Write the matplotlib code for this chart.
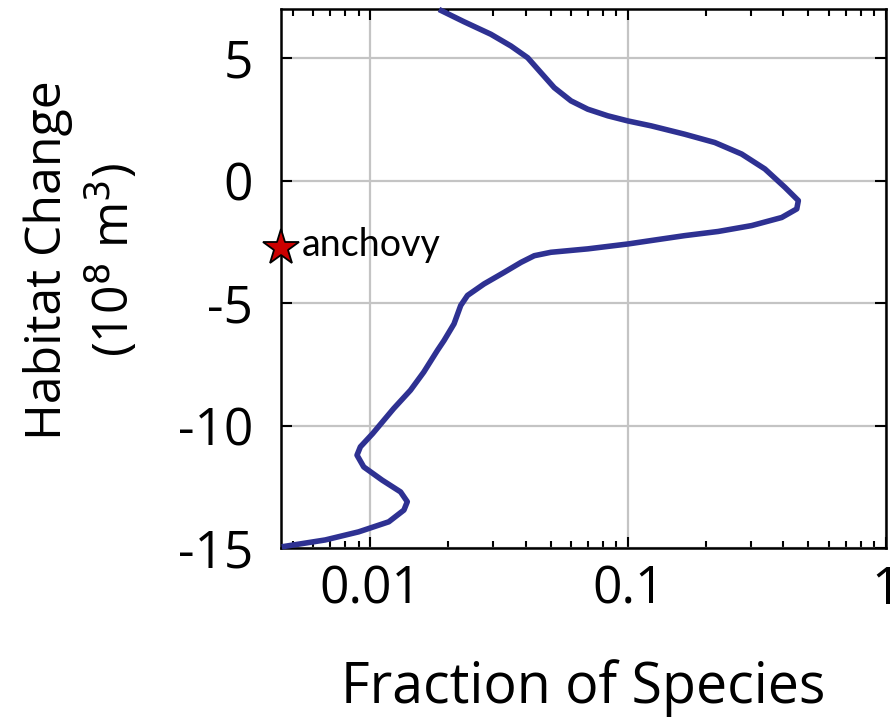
import matplotlib
matplotlib.use('Agg')
import matplotlib.pyplot as plt
from matplotlib.ticker import LogLocator, NullFormatter, FixedLocator
import numpy as np

# curve: habitat change (1e8 m^3) vs fraction of species
habitat = [6.98, 6.48, 5.97, 5.49, 5.01, 4.40, 3.79, 3.25, 2.91, 2.64, 2.43,
           2.23, 1.89, 1.55, 1.08, 0.47, -0.28, -0.82, -1.16, -1.51,
           -1.84, -2.08, -2.25, -2.43, -2.59, -2.79, -2.93, -3.07, -3.34,
           -3.75, -4.22, -4.69, -5.10, -5.85, -6.53, -6.93, -7.82, -8.56,
           -9.31, -10.33, -10.87, -11.21, -11.69, -12.23,
           -12.71, -13.11, -13.45, -13.93, -14.34, -14.67, -14.95]
fraction = [0.01845, 0.02306, 0.02931, 0.03508, 0.04074, 0.04586, 0.05164,
            0.05998, 0.06966, 0.08333, 0.0998, 0.1228, 0.1655, 0.2167,
            0.2754, 0.3390, 0.4055, 0.4570, 0.4505, 0.3938, 0.3011, 0.2234,
            0.1655, 0.1265, 0.0998, 0.0697, 0.0501, 0.0432, 0.0384, 0.0330,
            0.0276, 0.0238, 0.0224, 0.0211, 0.0193, 0.0182, 0.0161, 0.0143,
            0.0123, 0.0102, 0.00914, 0.00887, 0.00942,
            0.01111, 0.01309, 0.01390, 0.01349, 0.01178, 0.00900, 0.00668,
            0.00453]

anchovy_x = 0.0045
anchovy_y = -2.76

yticks = [-15, -10, -5, 0, 5]
yticklabels = ['-15', '-10', '-5', '0', '5']
xticks = [0.01, 0.1, 1]
xticklabels = ['0.01', '0.1', '1']

plt.rcParams['font.family'] = ['Open Sans', 'DejaVu Sans']

fig = plt.figure(figsize=(8.93, 7.25), dpi=100)
ax = fig.add_axes([0.3147, 0.2441, 0.6775, 0.7435])

ax.plot(fraction, habitat, color='#2e3192', lw=4.0, solid_capstyle='butt',
        solid_joinstyle='round', clip_on=False, zorder=3)
ax.plot([anchovy_x], [anchovy_y], marker='*', ms=27, mfc='#cc0000', mec='black',
        mew=1.3, clip_on=False, zorder=4)
ax.text(0.0054, anchovy_y + 0.12, 'anchovy', fontsize=27, family=['Lato', 'DejaVu Sans'],
        va='center', ha='left')

ax.set_xscale('log')
ax.set_xlim(0.0045, 1.0)
ax.set_ylim(-15, 7)
ax.xaxis.set_major_locator(FixedLocator(xticks))
ax.set_xticklabels(xticklabels)
ax.xaxis.set_minor_locator(LogLocator(base=10, subs=np.arange(2, 10)))
ax.xaxis.set_minor_formatter(NullFormatter())
ax.set_yticks(yticks)
ax.set_yticklabels(yticklabels)

ax.grid(True, which='major', color='#c4c4c4', lw=1.6)
ax.set_axisbelow(True)
for s in ax.spines.values():
    s.set_linewidth(1.8)

ax.tick_params(which='both', direction='in', top=True, right=True, width=1.5)
ax.tick_params(which='major', length=8, labelsize=37, pad=12)
ax.tick_params(which='minor', length=5)
ax.tick_params(axis='y', pad=20)

ax.set_xlabel('Fraction of Species', fontsize=40, labelpad=31)
fig.text(82 / 893, 1 - 260 / 725, 'Habitat Change\n(10$^8$ m$^3$)', fontsize=36,
         rotation=90, ha='center', va='center', multialignment='center',
         linespacing=1.25)

fig.savefig('out.png', dpi=100)
